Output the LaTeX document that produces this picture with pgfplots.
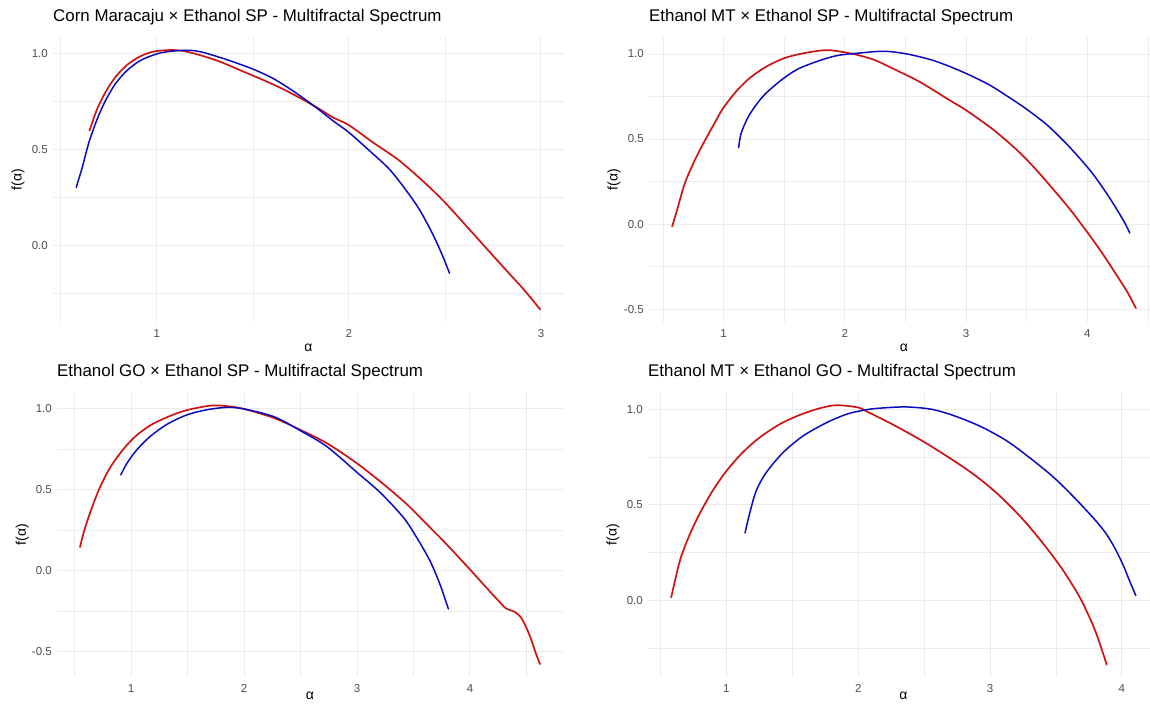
\documentclass[border=0pt]{standalone}
\usepackage{pgfplots}
\pgfplotsset{compat=1.18}
\usepackage{fontspec}
\setmainfont{Liberation Sans}

\definecolor{ggred}{RGB}{205,20,20}
\definecolor{ggblue}{RGB}{10,10,190}
\definecolor{gridgrey}{RGB}{235,235,235}
\definecolor{ticktext}{RGB}{77,77,77}

\pgfplotsset{
  spectrum/.style={
    scale only axis,
    height=285pt,
    anchor=north west,
    axis line style={draw=none},
    tick style={draw=none},
    grid=both,
    major grid style={gridgrey, line width=1pt},
    minor grid style={gridgrey, line width=0.5pt},
    xticklabel={\pgfmathprintnumber[assume math mode=true]{\tick}},
    yticklabel={\pgfmathprintnumber[fixed,fixed zerofill,precision=1,assume math mode=true]{\tick}},
    tick label style={font=\fontsize{11.5}{13}\selectfont, text=ticktext},
    yticklabel style={anchor=east, inner sep=0pt, xshift=-5pt},
    xticklabel style={anchor=north, inner sep=0pt, yshift=-7pt},
    xlabel={α},
    ylabel={f(α)},
    label style={font=\fontsize{14}{16}\selectfont},
    xlabel style={at={(axis description cs:0.5,0)}, anchor=base, yshift=-29.5pt},
    ylabel style={at={(axis description cs:-0.0686,0.5)}, anchor=center},
    title style={at={(axis description cs:0,1)}, anchor=base west, inner sep=0pt,
      yshift=10pt, font=\fontsize{16.9}{19}\selectfont},
    every axis plot/.append style={line width=1.7pt, line join=round, line cap=round, smooth, tension=0.5},
  },
  % the reference cuts the bottom row's axis title; keep it just inside the edge
  bottomrow/.style={xlabel style={yshift=7.5pt, inner sep=0.5pt}},
}

\begin{document}
\begin{tikzpicture}
\useasboundingbox (0,0) rectangle (1150pt,-704pt);
\clip (0,0) rectangle (1150pt,-704pt);

% top left
\begin{axis}[spectrum, at={(53pt,-37pt)}, width=511pt,
  xmin=0.46, xmax=3.12, ymin=-0.40, ymax=1.085,
  xtick={1,2,3}, minor xtick={0.5,1.5,2.5},
  ytick={0,0.5,1}, minor ytick={-0.25,0.25,0.75},
  title={Corn Maracaju × Ethanol SP - Multifractal Spectrum}]
\addplot[ggred] coordinates {
(0.650,0.597)(0.690,0.710)(0.733,0.797)(0.784,0.875)(0.845,0.939)(0.914,0.984)
(0.983,1.009)(1.069,1.017)(1.138,1.012)(1.224,0.991)(1.328,0.957)(1.448,0.906)
(1.552,0.862)(1.650,0.817)(1.750,0.765)(1.850,0.708)(1.917,0.666)(2.0,0.626)(2.125,0.536)
(2.264,0.440)(2.403,0.318)(2.5,0.223)(2.611,0.101)(2.715,-0.015)(2.828,-0.140)
(2.910,-0.230)(2.996,-0.334)};
\addplot[ggblue, line width=1.5pt] coordinates {
(0.581,0.301)(0.612,0.405)(0.647,0.536)(0.690,0.657)(0.733,0.753)(0.784,0.840)
(0.845,0.910)(0.914,0.962)(1.0,0.997)(1.069,1.010)(1.155,1.016)(1.224,1.009)
(1.328,0.979)(1.414,0.950)(1.500,0.918)(1.604,0.870)(1.708,0.805)(1.813,0.730)
(1.917,0.649)(2.0,0.588)(2.108,0.492)(2.212,0.395)(2.299,0.285)(2.368,0.185)
(2.438,0.055)(2.490,-0.060)(2.524,-0.146)};
\end{axis}

% top right
\begin{axis}[spectrum, at={(649pt,-37pt)}, width=510pt,
  xmin=0.386, xmax=4.591, ymin=-0.576, ymax=1.10,
  xtick={1,2,3,4}, minor xtick={0.5,1.5,2.5,3.5,4.5},
  ytick={-0.5,0,0.5,1}, minor ytick={-0.25,0.25,0.75},
  title={Ethanol MT × Ethanol SP - Multifractal Spectrum}]
\addplot[ggred] coordinates {
(0.577,-0.014)(0.624,0.099)(0.679,0.235)(0.748,0.352)(0.830,0.469)(0.913,0.576)
(0.995,0.679)(1.105,0.780)(1.215,0.858)(1.353,0.926)(1.499,0.975)(1.656,1.004)
(1.848,1.023)(2.000,1.010)(2.073,1.0)(2.238,0.967)(2.404,0.912)(2.624,0.834)
(2.844,0.737)(3.001,0.669)(3.230,0.552)(3.450,0.415)(3.616,0.289)(3.781,0.152)
(3.870,0.075)(3.960,-0.010)(4.050,-0.097)(4.150,-0.200)(4.250,-0.310)(4.330,-0.400)
(4.40,-0.494)};
\addplot[ggblue, line width=1.5pt] coordinates {
(1.125,0.449)(1.147,0.537)(1.215,0.644)(1.326,0.751)(1.463,0.839)(1.601,0.907)
(1.766,0.955)(1.931,0.990)(2.096,1.004)(2.321,1.016)(2.514,1.0)(2.734,0.961)
(2.955,0.900)(3.175,0.825)(3.340,0.752)(3.5,0.675)(3.671,0.581)(3.836,0.466)
(3.974,0.357)(4.056,0.285)(4.15,0.19)(4.24,0.09)(4.31,0.005)(4.35,-0.053)};
\end{axis}

% bottom left
\begin{axis}[spectrum, bottomrow, at={(57pt,-392pt)}, width=506pt,
  xmin=0.343, xmax=4.824, ymin=-0.66, ymax=1.105,
  xtick={1,2,3,4}, minor xtick={0.5,1.5,2.5,3.5,4.5},
  ytick={-0.5,0,0.5,1}, minor ytick={-0.25,0.25,0.75},
  title={Ethanol GO × Ethanol SP - Multifractal Spectrum}]
\addplot[ggred] coordinates {
(0.547,0.145)(0.583,0.244)(0.642,0.369)(0.716,0.503)(0.805,0.627)(0.908,0.731)
(1.027,0.824)(1.175,0.901)(1.352,0.959)(1.5,0.994)(1.707,1.021)(1.855,1.017)
(2.0,1.0)(2.265,0.944)(2.5,0.870)(2.735,0.787)(3.0,0.663)(3.235,0.534)
(3.441,0.410)(3.618,0.286)(3.794,0.161)(4.0,0.006)(4.15,-0.11)(4.25,-0.186)
(4.32,-0.235)(4.40,-0.258)(4.46,-0.30)(4.53,-0.404)(4.58,-0.507)(4.62,-0.58)};
\addplot[ggblue, line width=1.5pt] coordinates {
(0.908,0.592)(0.967,0.669)(1.056,0.752)(1.175,0.834)(1.322,0.907)(1.5,0.965)
(1.678,0.996)(1.855,1.010)(2.0,1.0)(2.265,0.952)(2.5,0.865)(2.735,0.766)
(3.0,0.607)(3.206,0.482)(3.412,0.327)(3.529,0.203)(3.647,0.058)(3.735,-0.087)
(3.809,-0.238)};
\end{axis}

% bottom right
\begin{axis}[spectrum, bottomrow, at={(648pt,-392pt)}, width=511pt,
  xmin=0.405, xmax=4.282, ymin=-0.40, ymax=1.09,
  xtick={1,2,3,4}, minor xtick={0.5,1.5,2.5,3.5},
  ytick={0,0.5,1}, minor ytick={-0.25,0.25,0.75},
  title={Ethanol MT × Ethanol GO - Multifractal Spectrum}]
\addplot[ggred] coordinates {
(0.581,0.016)(0.614,0.117)(0.653,0.222)(0.716,0.336)(0.793,0.449)(0.894,0.572)
(1.0,0.677)(1.122,0.773)(1.25,0.851)(1.403,0.921)(1.556,0.970)(1.709,1.005)
(1.836,1.021)(2.0,1.009)(2.071,0.986)(2.249,0.925)(2.477,0.838)(2.680,0.751)
(2.883,0.656)(3.061,0.555)(3.239,0.432)(3.391,0.308)(3.543,0.169)(3.670,0.030)
(3.746,-0.075)(3.81,-0.18)(3.885,-0.335)};
\addplot[ggblue, line width=1.5pt] coordinates {
(1.141,0.353)(1.174,0.449)(1.225,0.572)(1.301,0.668)(1.429,0.773)(1.581,0.860)
(1.760,0.930)(1.912,0.974)(2.014,0.991)(2.122,1.003)(2.350,1.012)(2.553,1.0)
(2.731,0.965)(2.934,0.908)(3.137,0.830)(3.340,0.725)(3.492,0.638)(3.645,0.534)
(3.797,0.421)(3.88,0.35)(3.95,0.27)(4.01,0.185)(4.06,0.10)(4.106,0.026)};
\end{axis}
\end{tikzpicture}
\end{document}
